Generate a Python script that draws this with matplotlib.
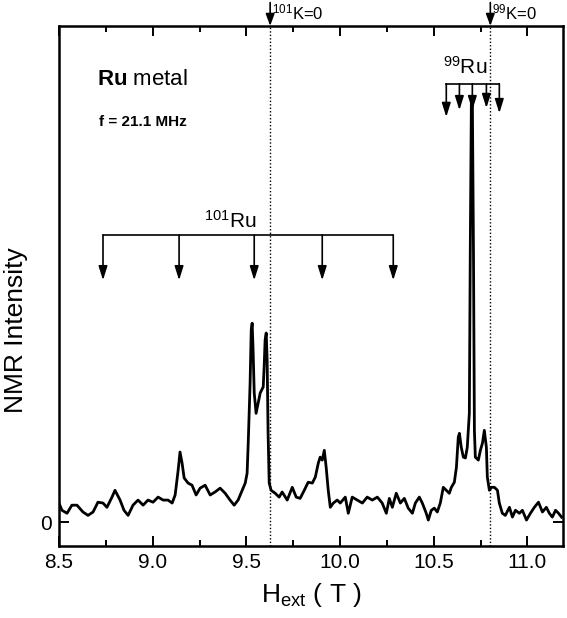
import numpy as np
import matplotlib
matplotlib.use("Agg")
import matplotlib.pyplot as plt

plt.rcParams["font.family"] = ["Liberation Sans", "DejaVu Sans"]
plt.rcParams["mathtext.fontset"] = "custom"
plt.rcParams["mathtext.rm"] = "Liberation Sans"
plt.rcParams["mathtext.it"] = "Liberation Sans:italic"
plt.rcParams["mathtext.bf"] = "Liberation Sans:bold"

# NMR spectrum of Ru metal, field sweep at 21.1 MHz (intensity in arb. units)
field = [
    8.500, 8.516, 8.543, 8.569, 8.596, 8.628, 8.655, 8.682, 8.708, 8.735,
    8.756, 8.783, 8.799, 8.826, 8.847, 8.869, 8.895, 8.922, 8.949, 8.975,
    9.002, 9.029, 9.056, 9.082, 9.104, 9.120, 9.136, 9.146, 9.157, 9.168,
    9.189, 9.210, 9.232, 9.253, 9.280, 9.307, 9.333, 9.360, 9.387, 9.413,
    9.435, 9.456, 9.478, 9.494, 9.504, 9.510, 9.520, 9.526, 9.531, 9.536,
    9.542, 9.552, 9.563, 9.574, 9.590, 9.595, 9.600, 9.606, 9.611, 9.616,
    9.622, 9.632, 9.654, 9.675, 9.691, 9.718, 9.745, 9.766, 9.787, 9.809,
    9.830, 9.852, 9.868, 9.884, 9.894, 9.905, 9.916, 9.926, 9.937, 9.948,
    9.964, 9.985, 10.001, 10.028, 10.044, 10.065, 10.092, 10.119, 10.145, 10.172,
    10.199, 10.225, 10.247, 10.263, 10.279, 10.300, 10.322, 10.343, 10.364, 10.386,
    10.402, 10.423, 10.439, 10.460, 10.471, 10.487, 10.503, 10.519, 10.535, 10.551,
    10.567, 10.583, 10.594, 10.610, 10.621, 10.631, 10.637, 10.647, 10.658, 10.669,
    10.679, 10.690, 10.695, 10.701, 10.706, 10.712, 10.717, 10.722, 10.738, 10.749,
    10.760, 10.770, 10.781, 10.786, 10.797, 10.808, 10.824, 10.840, 10.850, 10.866,
    10.882, 10.904, 10.920, 10.936, 10.957, 10.973, 10.995, 11.016, 11.037, 11.059,
    11.080, 11.101, 11.117, 11.133, 11.150, 11.166, 11.182,
]
intensity = [
    4.5, 2.8, 2.1, 4.0, 4.0, 2.4, 1.6, 2.4, 4.7, 4.5,
    3.5, 5.9, 7.5, 5.2, 2.8, 1.6, 4.0, 5.2, 4.0, 5.2,
    4.7, 5.9, 5.2, 5.2, 4.5, 6.4, 12.2, 16.5, 13.9, 10.4,
    9.2, 8.7, 6.4, 8.0, 8.7, 6.4, 7.1, 8.0, 6.8, 5.2,
    4.0, 5.2, 7.5, 9.2, 11.5, 18.6, 32.7, 45.2, 46.8, 40.5,
    30.4, 25.6, 28.0, 30.4, 31.8, 36.5, 42.8, 44.5, 38.1, 20.9,
    9.2, 7.5, 6.8, 5.9, 7.1, 5.2, 8.2, 5.9, 5.6, 7.5,
    9.4, 9.2, 10.6, 13.9, 15.3, 14.6, 16.9, 12.9, 7.5, 3.5,
    4.5, 5.2, 4.5, 5.9, 2.1, 5.9, 5.2, 4.5, 5.9, 5.2,
    5.9, 4.5, 2.1, 5.6, 3.5, 6.8, 4.5, 5.6, 3.3, 2.1,
    4.5, 5.9, 4.5, 2.1, 0.5, 2.8, 3.3, 2.4, 4.5, 8.2,
    7.5, 6.8, 8.2, 9.4, 12.9, 20.0, 20.9, 17.6, 15.3, 15.1,
    17.6, 25.6, 64.0, 100.0, 100.0, 64.0, 21.6, 15.3, 14.6, 16.9,
    18.6, 21.6, 17.6, 10.6, 7.5, 8.2, 8.2, 7.5, 4.5, 2.1,
    1.6, 3.5, 1.2, 2.8, 2.1, 2.8, 0.5, 2.1, 3.5, 4.7,
    2.4, 3.5, 2.1, 1.2, 2.8, 2.1, 1.2,
]

# zero-shift (K=0) positions of both isotopes
k0_field = [9.627, 10.802]
k0_labels = ["$^{101}$K=0", "$^{99}$K=0"]

# quadrupole-split line positions
ru101_lines = [8.735, 9.141, 9.542, 9.905, 10.284]
ru101_tips = [56.9, 56.9, 56.9, 56.9, 56.9]
ru101_bar = 67.5
ru99_lines = [10.567, 10.637, 10.706, 10.781, 10.850]
ru99_tips = [95.3, 96.9, 96.9, 97.4, 96.2]
ru99_bar = 103.1

fig = plt.figure(figsize=(5.67, 6.18), dpi=100)
ax = fig.add_axes([0.104, 0.1165, 0.889, 0.8415])

ax.plot(field, intensity, color="black", lw=2.0, solid_joinstyle="round")

for xk, lab in zip(k0_field, k0_labels):
    ax.axvline(xk, color="black", lw=1.0, ls=(0, (1, 1.5)))
    ax.annotate("", xy=(xk, 1.0), xytext=(xk, 1.045),
                xycoords=("data", "axes fraction"),
                textcoords=("data", "axes fraction"),
                arrowprops=dict(arrowstyle="-|>,head_length=0.6,head_width=0.22",
                                color="black", lw=1.2, shrinkA=0, shrinkB=0,
                                mutation_scale=12),
                annotation_clip=False)
    ax.text(xk + 0.008, 1.006, lab, transform=ax.get_xaxis_transform(),
            ha="left", va="bottom", fontsize=12)

ahead = dict(arrowstyle="-|>,head_length=0.7,head_width=0.22", color="black",
             lw=1.2, shrinkA=0, shrinkB=0, mutation_scale=12)

ax.plot([ru101_lines[0], ru101_lines[-1]], [ru101_bar, ru101_bar], color="black", lw=1.2)
for xl, tip in zip(ru101_lines, ru101_tips):
    ax.annotate("", xy=(xl, tip), xytext=(xl, ru101_bar), arrowprops=ahead)
ax.text(9.413, ru101_bar + 0.8, "$^{101}$Ru", ha="center", va="bottom", fontsize=15)

ax.plot([ru99_lines[0], ru99_lines[-1]], [ru99_bar, ru99_bar], color="black", lw=1.2)
for xl, tip in zip(ru99_lines, ru99_tips):
    ax.annotate("", xy=(xl, tip), xytext=(xl, ru99_bar), arrowprops=ahead)
ax.text(10.669, ru99_bar + 1.5, "$^{99}$Ru", ha="center", va="bottom", fontsize=15)

ax.text(8.703, 104.2, r"$\mathbf{Ru}$ metal", fontsize=16, va="center", ha="left")
ax.text(8.714, 94.1, "f = 21.1 MHz", fontsize=11, fontweight="bold",
        va="center", ha="left")

ax.set_xlim(8.5, 11.19)
ax.set_ylim(-5.6, 116.7)
ax.set_xticks([8.5, 9.0, 9.5, 10.0, 10.5, 11.0])
ax.set_xticks(np.arange(8.75, 11.2, 0.5), minor=True)
ax.set_xticklabels(["8.5", "9.0", "9.5", "10.0", "10.5", "11.0"], fontsize=15)
ax.set_yticks([0])
ax.set_yticklabels(["0"], fontsize=15)
ax.tick_params(axis="both", which="both", direction="in", top=True, right=True,
               width=1.4)
ax.tick_params(which="major", length=7, pad=5)
ax.tick_params(which="minor", length=4)
for sp in ax.spines.values():
    sp.set_linewidth(1.8)

ax.set_xlabel(r"H$_{\mathrm{ext}}$ ( T )", fontsize=19)
ax.xaxis.set_label_coords(0.5, -0.068)
ax.set_ylabel("NMR Intensity", fontsize=19)
ax.yaxis.set_label_coords(-0.062, 0.415)

fig.savefig("out.png", dpi=100)
